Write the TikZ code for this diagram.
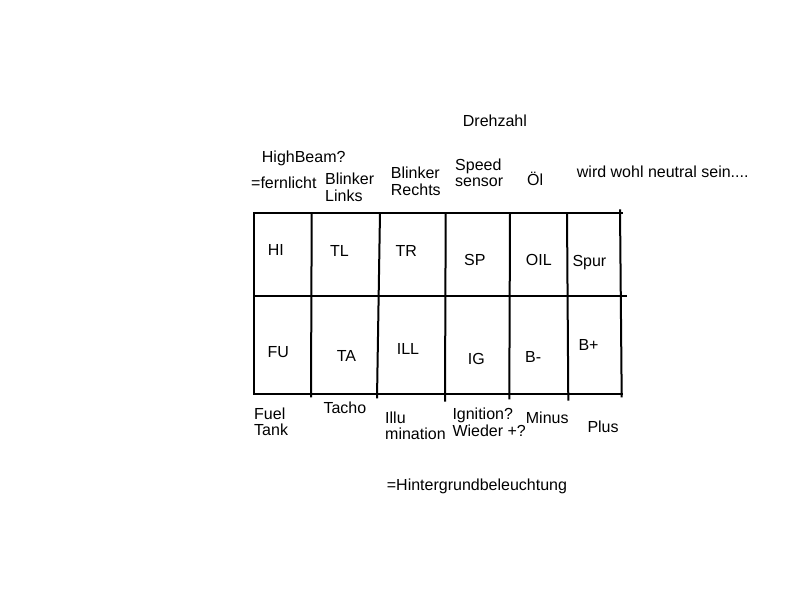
\documentclass[tikz,border=0pt]{standalone}
\usepackage{fontspec}
\setmainfont{Liberation Sans}
\begin{document}
\begin{tikzpicture}[x=1pt, y=-1pt,
		lbl/.style={inner sep=0pt, anchor=base west, align=left, font=\fontsize{16}{16.3}\selectfont},
		gridline/.style={line width=2pt}]
			%%%%% START %%%%%
			\useasboundingbox (0,0) rectangle (800,600);
			
			\draw[gridline] (253,213.3) -- (623.3,213.3);
			\draw[gridline] (253,296) -- (627,296);
			\draw[gridline] (253,394) -- (623,394);
			
			\draw[gridline] (254,212.3) -- (254,395);
			\draw[gridline] (311.7,212.3) -- (311,397.3);
			\draw[gridline] (380,212.3) -- (377,398.3);
			\draw[gridline] (445.7,212.3) -- (445,401.7);
			\draw[gridline] (510,212.3) -- (509.3,399.3);
			\draw[gridline] (567,212.3) -- (568.3,400.7);
			\draw[gridline] (620,209.3) -- (621.7,397.3);
			
			% multi-line labels sit on the baseline of their last line
			\node[lbl] (drehzahl) at (462.7,126) {Drehzahl};
			\node[lbl] (highbeam) at (261.7,162.3) {HighBeam?};
			\node[lbl] (fernlicht) at (251,188.3) {=fernlicht};
			\node[lbl] (blinkl) at (325,201) {Blinker\\Links};
			\node[lbl] (blinkr) at (390.7,195) {Blinker\\Rechts};
			\node[lbl] (speed) at (455,186.7) {Speed\\sensor};
			\node[lbl] (oel) at (527,185) {Öl};
			\node[lbl] (neutral) at (576.7,177.7) {wird wohl neutral sein....};
			
			\node[lbl] (hi) at (267.7,255.3) {HI};
			\node[lbl] (tl) at (330,256) {TL};
			\node[lbl] (tr) at (395.3,256.7) {TR};
			\node[lbl] (sp) at (464,265.7) {SP};
			\node[lbl] (oil) at (525.7,265.7) {OIL};
			\node[lbl] (spur) at (572.3,266.7) {Spur};
			
			\node[lbl] (fu) at (267.3,357.3) {FU};
			\node[lbl] (ta) at (336.7,361.7) {TA};
			\node[lbl] (ill) at (396.7,354) {ILL};
			\node[lbl] (ig) at (467.7,364.3) {IG};
			\node[lbl] (bminus) at (525,362.3) {B-};
			\node[lbl] (bplus) at (578.3,350) {B+};
			
			\node[lbl] (fuel) at (254,435.7) {Fuel\\Tank};
			\node[lbl] (tacho) at (323.3,413.3) {Tacho};
			\node[lbl] (illu) at (385,439.3) {Illu\\mination};
			\node[lbl] (ignition) at (452.3,436) {Ignition?\\Wieder +?};
			\node[lbl] (minus) at (525.7,423.3) {Minus};
			\node[lbl] (plus) at (587.3,432.7) {Plus};
			
			\node[lbl] (hintergrund) at (386.7,490) {=Hintergrundbeleuchtung};
			
			%%%%% END %%%%%
\end{tikzpicture}
\end{document}
